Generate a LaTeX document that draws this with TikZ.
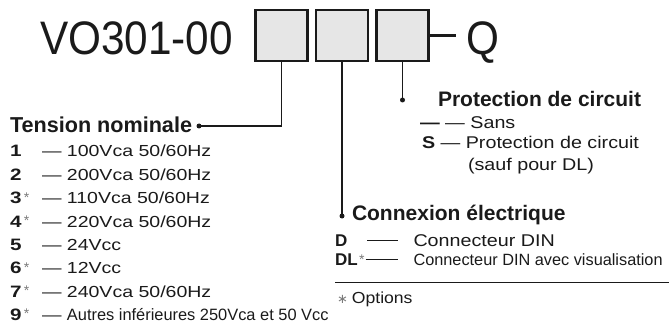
\documentclass[tikz,border=0pt]{standalone}
\usepackage{fontspec}
\setmainfont{Liberation Sans}
\newfontfamily\bigf[FakeStretch=0.9]{Liberation Sans}
\newfontfamily\widef[FakeStretch=1.22]{Liberation Sans}
\newfontfamily\keyf[FakeStretch=1.25]{Liberation Sans}
\newfontfamily\rwidef[FakeStretch=1.16]{Liberation Sans}
\newfontfamily\optf[FakeStretch=1.1]{Liberation Sans}
\newfontfamily\dejavu{DejaVu Sans}
\definecolor{ink}{HTML}{1A1A1A}
\definecolor{boxgray}{HTML}{E6E6E6}
\definecolor{stargray}{HTML}{7A7A7A}
\newcommand\optstar{\hspace{2.5pt}\raisebox{1.5pt}{\rmfamily\mdseries\fontsize{14}{14}\selectfont\color{stargray}*}}
\begin{document}
\begin{tikzpicture}[x=1pt,y=-1pt,
  txt/.style={anchor=base west, inner sep=0pt, outer sep=0pt, text=ink},
  codebox/.style={draw=ink, fill=boxgray, line width=2.2pt, minimum width=52pt, minimum height=51pt, inner sep=0pt},
  conn/.style={draw=ink, line width=1.8pt},
  dotm/.style={circle, fill=ink, inner sep=0pt, minimum size=5pt},
  title/.style={txt, font=\fontsize{21.6}{21.6}\selectfont\bfseries},
  rtitle/.style={txt, font=\fontsize{21}{21}\selectfont\bfseries},
  bigtxt/.style={txt, font=\bigf\fontsize{47}{47}\selectfont},
  item/.style={txt, font=\widef\fontsize{16}{16}\selectfont},
  ritem/.style={txt, font=\rwidef\fontsize{17}{17}\selectfont},
  key/.style={txt, font=\keyf\fontsize{16.5}{16.5}\selectfont\bfseries},
  rkey/.style={txt, font=\fontsize{17}{17}\selectfont\bfseries},
  rdash/.style={txt},
]
\useasboundingbox (0,0) rectangle (669,326);

% part number
\node[bigtxt] (code) at (40,55) {VO301-00};
\node[codebox] (b1) at (281.5,35.5) {};
\node[codebox] (b2) at (342,35.5) {};
\node[codebox] (b3) at (402.5,35.5) {};
\node[bigtxt] (Q) at (466,55) {Q};
\coordinate (qend) at (456,35.5);
\draw[draw=ink, line width=2.2pt] (b3.east) -- (qend);

% connectors
\node[dotm] (d1) at (199,126) {};
\coordinate (y2) at (0,216);
\coordinate (y3) at (0,100);
\node[dotm] (d2) at (b2.south |- y2) {};
\node[dotm] (d3) at (b3.south |- y3) {};
\draw[conn] (b1.south) |- (d1.center);
\draw[conn] (b2.south) -- (d2.center);
\draw[conn] (b3.south) -- (d3.center);

% Tension nominale
\node[title] (tens) at (10,132) {Tension nominale};
\node[key] (n1) at (10,157) {1};
\node[item] (t1) at (42,157) {— 100Vca 50/60Hz};
\node[key] (n2) at (10,180.3) {2};
\node[item] (t2) at (42,180.3) {— 200Vca 50/60Hz};
\node[key] (n3) at (10,203.6) {3\optstar};
\node[item] (t3) at (42,203.6) {— 110Vca 50/60Hz};
\node[key] (n4) at (10,227) {4\optstar};
\node[item] (t4) at (42,227) {— 220Vca 50/60Hz};
\node[key] (n5) at (10,250.3) {5};
\node[item] (t5) at (42,250.3) {— 24Vcc};
\node[key] (n6) at (10,273.6) {6\optstar};
\node[item] (t6) at (42,273.6) {— 12Vcc};
\node[key] (n7) at (10,297) {7\optstar};
\node[item] (t7) at (42,297) {— 240Vca 50/60Hz};
\node[key] (n9) at (10,320.3) {9\optstar};
\node[item] (t9) at (42,320.3) {— {\rmfamily\fontsize{16.4}{16.4}\selectfont Autres inférieures 250Vca et 50 Vcc}};

% Protection de circuit
\node[rtitle] (prot) at (438,106.7) {Protection de circuit};
\node[ritem] (sans) at (420,128.3) {\textbf{—} — Sans};
\node[ritem] (sprot) at (422,148.3) {\textbf{S} — Protection de circuit};
\node[ritem] (sauf) at (468,170) {(sauf pour DL)};

% Connexion electrique
\node[rtitle] (conx) at (352,220) {Connexion électrique};
\node[rkey] (kd) at (335,246.7) {D};
\node[rdash] (dashd) at (367,246.7) {\rule[5.5pt]{31pt}{0.9pt}};
\node[ritem] (cd) at (413.5,246.7) {Connecteur DIN};
\node[rkey] (kdl) at (335,265.5) {DL\hspace{-1pt}\optstar};
\node[rdash] (dashdl) at (365.5,265.5) {\rule[5.5pt]{32.5pt}{0.9pt}};
\node[txt, font=\fontsize{16.3}{16.3}\selectfont] (cdl) at (413.5,265.5) {Connecteur DIN avec visualisation};

% options
\coordinate (sepL) at (335,282.7);
\coordinate (sepR) at (669,282.7);
\draw[draw=ink, line width=0.8pt] (sepL) -- (sepR);
\node[txt, font=\optf\fontsize{16}{16}\selectfont] (opt) at (337,303) {{\dejavu\fontsize{13}{13}\selectfont\color{stargray}∗}\hspace{4pt}Options};
\end{tikzpicture}
\end{document}
